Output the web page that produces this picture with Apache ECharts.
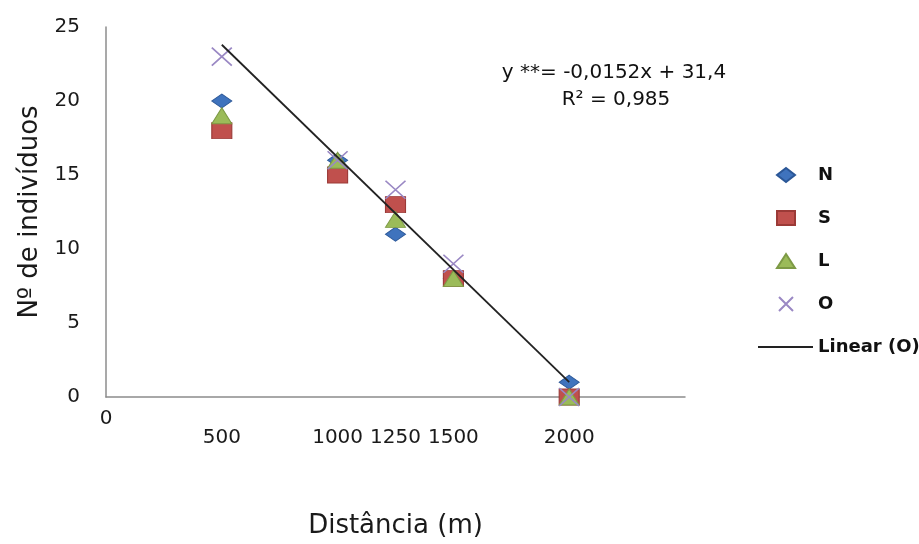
<!DOCTYPE html>
<html>
<head>
<meta charset="utf-8">
<script src="https://cdn.jsdelivr.net/npm/echarts@6/dist/echarts.min.js"></script>
<style>html,body{margin:0;padding:0;background:#fff}#c{width:919px;height:544px}</style>
</head>
<body>
<div id="c"></div>
<script>
var distances = [500, 1000, 1250, 1500, 2000];
var seriesN = [20, 16, 11, 8, 1];
var seriesS = [18, 15, 13, 8, 0];
var seriesL = [19, 16, 12, 8, 0];
var seriesO = [23, 16, 14, 9, 0];
var trendX = [500, 2000];
var trendY = [23.8, 1.0];
var xTickLabelsLow = [0];
var xTickLabelsHigh = [500, 1000, 1250, 1500, 2000];
var yTicks = [0, 5, 10, 15, 20, 25];

function pairs(xs, ys) { return xs.map(function (x, i) { return [x, ys[i]]; }); }
function plain(v) { return String(v); }

var FONT = 'DejaVu Sans';
var chart = echarts.init(document.getElementById('c'));
chart.setOption({
  animation: false,
  backgroundColor: '#fff',
  textStyle: { fontFamily: FONT },
  grid: { left: 106, right: 234, top: 27, bottom: 147 },
  xAxis: [{
    type: 'value', min: 0, max: 2500,
    axisLine: { show: true, lineStyle: { color: '#8c8c8c', width: 1.5 } },
    axisTick: { show: false },
    splitLine: { show: false },
    axisLabel: { customValues: xTickLabelsLow, formatter: plain, margin: 12, fontSize: 20, color: '#1a1a1a', fontFamily: FONT },
    name: 'Distância (m)', nameLocation: 'middle', nameGap: 116,
    nameTextStyle: { fontSize: 26, color: '#1a1a1a', fontFamily: FONT }
  }, {
    type: 'value', min: 0, max: 2500, position: 'bottom',
    axisLine: { show: false }, axisTick: { show: false }, splitLine: { show: false },
    axisLabel: { customValues: xTickLabelsHigh, formatter: plain, margin: 31, fontSize: 20, color: '#1a1a1a', fontFamily: FONT }
  }],
  yAxis: {
    type: 'value', min: 0, max: 25, interval: 5,
    axisLine: { show: true, lineStyle: { color: '#8c8c8c', width: 1.5 } },
    axisTick: { show: false },
    splitLine: { show: false },
    axisLabel: { margin: 26, fontSize: 20, color: '#1a1a1a', fontFamily: FONT,
      formatter: function (v) { return yTicks.indexOf(v) >= 0 ? String(v) : ''; } },
    name: 'Nº de indivíduos', nameLocation: 'middle', nameGap: 62, nameRotate: 90,
    nameTextStyle: { fontSize: 26, color: '#1a1a1a', fontFamily: FONT }
  },
  legend: [{
    orient: 'vertical', left: 771, top: 160,
    itemWidth: 18, itemHeight: 14, itemGap: 23,
    data: ['N', 'S', 'L', 'O'],
    textStyle: { fontSize: 18, fontWeight: 'bold', color: '#111', lineHeight: 20, padding: [0, 0, 0, 18], fontFamily: FONT }
  }, {
    orient: 'vertical', left: 753, top: 332,
    itemWidth: 55, itemHeight: 2,
    data: [{ name: 'Linear (O)', icon: 'rect' }],
    textStyle: { fontSize: 18, fontWeight: 'bold', color: '#111', lineHeight: 20, fontFamily: FONT }
  }],
  graphic: [{
    type: 'text', x: 614, y: 73,
    style: { text: 'y **= -0,0152x + 31,4', font: '20px "DejaVu Sans"', fill: '#111', align: 'center', verticalAlign: 'middle' }
  }, {
    type: 'text', x: 616, y: 100,
    style: { text: 'R² = 0,985', font: '20px "DejaVu Sans"', fill: '#111', align: 'center', verticalAlign: 'middle' }
  }],
  series: [{
    name: 'N', type: 'scatter', data: pairs(distances, seriesN),
    symbol: 'diamond', symbolSize: [20, 14],
    itemStyle: { color: '#3f73bd', borderColor: '#2b5797', borderWidth: 1, opacity: 1 }
  }, {
    name: 'S', type: 'scatter', data: pairs(distances, seriesS),
    symbol: 'rect', symbolSize: [20, 16],
    itemStyle: { color: '#c0504d', borderColor: '#9b3a37', borderWidth: 1, opacity: 1 }
  }, {
    name: 'L', type: 'scatter', data: pairs(distances, seriesL),
    symbol: 'triangle', symbolSize: [20, 16],
    itemStyle: { color: '#9bbb59', borderColor: '#7d9a45', borderWidth: 1, opacity: 1 }
  }, {
    name: 'O', type: 'scatter', data: pairs(distances, seriesO),
    symbol: 'path://M0,0L10,10M10,0L0,10', symbolSize: [20, 18],
    itemStyle: { color: 'rgba(0,0,0,0)', borderColor: '#9a88c4', borderWidth: 1.6, opacity: 1 }
  }, {
    name: 'Linear (O)', type: 'line', data: pairs(trendX, trendY),
    showSymbol: false, symbol: 'none', z: 5,
    lineStyle: { color: '#222', width: 1.8 },
    itemStyle: { color: '#222' }
  }]
});
</script>
</body>
</html>
